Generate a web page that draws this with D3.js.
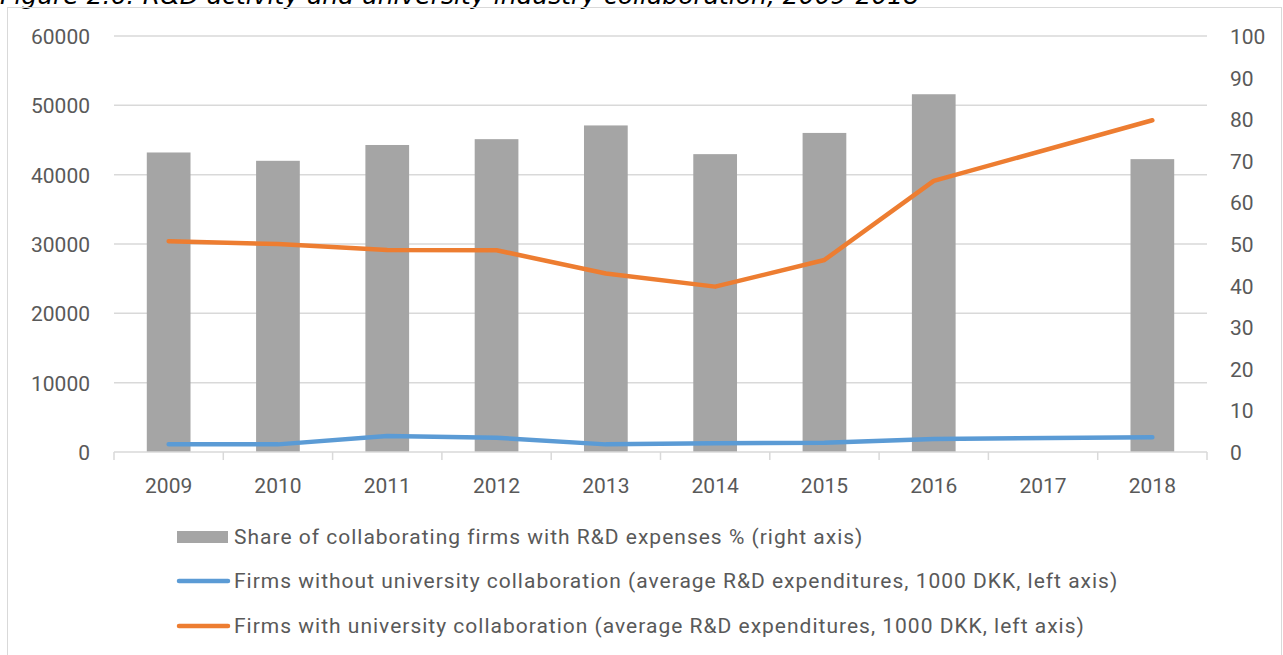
<!DOCTYPE html>
<html>
<head>
<meta charset="utf-8">
<script src="https://cdn.jsdelivr.net/npm/d3@7"></script>
<style>
  body { margin: 0; background: #fff; }
  text { font-family: Roboto, "Noto Sans", sans-serif; fill: #595959; }
</style>
</head>
<body>
<script>
var w = 1283;
var h = 655;

// data
var years = ["2009", "2010", "2011", "2012", "2013", "2014", "2015", "2016", "2017", "2018"];
var shareCollab = [72.0, 70.0, 73.8, 75.2, 78.5, 71.6, 76.7, 86.0, null, 70.4];
var withoutUni = [1100, 1100, 2300, 2050, 1100, 1250, 1350, 1880, null, 2120];
var withUni = [30400, 30000, 29150, 29100, 25750, 23850, 27700, 39100, null, 47850];
var leftTicks = [0, 10000, 20000, 30000, 40000, 50000, 60000];
var rightTicks = [0, 10, 20, 30, 40, 50, 60, 70, 80, 90, 100];
var legendLabels = [
    "Share of collaborating firms with R&D expenses % (right axis)",
    "Firms without university collaboration (average R&D expenditures, 1000 DKK, left axis)",
    "Firms with university collaboration (average R&D expenditures, 1000 DKK, left axis)"
];

var grey = "#a5a5a5", blue = "#5b9bd5", orange = "#ed7d31";

var svg = d3.select("body").append("svg")
            .attr("width", w)
            .attr("height", h);

// title, cut off at top like in the original
svg.append("text")
    .attr("x", 0)
    .attr("y", 4)
    .style("fill", "#000")
    .style("font-family", "'DejaVu Sans'")
    .style("font-style", "italic")
    .style("font-size", "25px")
    .text("Figure 2.6: R&D activity and university-industry collaboration, 2009-2018");

// chart frame
svg.append("rect")
    .attr("x", 7.5).attr("y", 7.5)
    .attr("width", 1274).attr("height", 700)
    .attr("fill", "none")
    .attr("stroke", "#d9d9d9");

var xBand = d3.scaleBand().domain(years).range([114, 1207]);
var yLeft = d3.scaleLinear().domain([0, 60000]).range([452, 36]);
var yRight = d3.scaleLinear().domain([0, 100]).range([452, 36]);

// gridlines
svg.append("g").selectAll("line")
    .data(leftTicks.slice(1))
    .enter().append("line")
    .attr("x1", 114).attr("x2", 1207)
    .attr("y1", function(d){ return yLeft(d); })
    .attr("y2", function(d){ return yLeft(d); })
    .attr("stroke", "#d9d9d9")
    .attr("stroke-width", 1.5);

// bars
svg.append("g").selectAll("rect")
    .data(years.filter(function(d, i){ return shareCollab[i] != null; }))
    .enter().append("rect")
    .attr("x", function(d){ return xBand(d) + xBand.bandwidth() * 0.3; })
    .attr("width", xBand.bandwidth() * 0.4)
    .attr("y", function(d){ return yRight(shareCollab[years.indexOf(d)]); })
    .attr("height", function(d){ return 452 - yRight(shareCollab[years.indexOf(d)]); })
    .attr("fill", grey);

// x axis with category-boundary ticks
var xAxis = svg.append("g").attr("transform", "translate(0,452)");
xAxis.append("line")
    .attr("x1", 114).attr("x2", 1207)
    .attr("stroke", "#d9d9d9").attr("stroke-width", 1.5);
xAxis.selectAll("line.tick")
    .data(years.concat(["end"]))
    .enter().append("line")
    .attr("class", "tick")
    .attr("x1", function(d, i){ return 114 + i * xBand.step(); })
    .attr("x2", function(d, i){ return 114 + i * xBand.step(); })
    .attr("y1", 0).attr("y2", 8)
    .attr("stroke", "#d9d9d9").attr("stroke-width", 1.5);
xAxis.selectAll("text")
    .data(years)
    .enter().append("text")
    .attr("x", function(d){ return xBand(d) + xBand.bandwidth() / 2; })
    .attr("y", 41)
    .attr("text-anchor", "middle")
    .style("font-size", "21px")
    .text(function(d){ return d; });

// left axis labels
svg.append("g").selectAll("text")
    .data(leftTicks)
    .enter().append("text")
    .attr("x", 90)
    .attr("y", function(d){ return yLeft(d) + 8; })
    .attr("text-anchor", "end")
    .style("font-size", "21px")
    .text(function(d){ return d; });

// right axis labels
svg.append("g").selectAll("text")
    .data(rightTicks)
    .enter().append("text")
    .attr("x", 1230)
    .attr("y", function(d){ return yRight(d) + 8; })
    .style("font-size", "21px")
    .text(function(d){ return d; });

// lines (2017 missing, points connected across the gap)
function drawLine(values, colour){
    var pts = years.map(function(d, i){ return [d, values[i]]; })
                   .filter(function(p){ return p[1] != null; });
    var line = d3.line()
        .x(function(p){ return xBand(p[0]) + xBand.bandwidth() / 2; })
        .y(function(p){ return yLeft(p[1]); });
    svg.append("path")
        .datum(pts)
        .attr("d", line)
        .attr("fill", "none")
        .attr("stroke", colour)
        .attr("stroke-width", 4.5)
        .attr("stroke-linejoin", "round")
        .attr("stroke-linecap", "round");
}
drawLine(withoutUni, blue);
drawLine(withUni, orange);

// legend
var legend = svg.append("g");
var legendY = [537, 581, 626];
legend.append("rect")
    .attr("x", 177).attr("y", legendY[0] - 6)
    .attr("width", 51).attr("height", 12)
    .attr("fill", grey);
[blue, orange].forEach(function(c, i){
    legend.append("line")
        .attr("x1", 179).attr("x2", 228)
        .attr("y1", legendY[i + 1]).attr("y2", legendY[i + 1])
        .attr("stroke", c)
        .attr("stroke-width", 4.5)
        .attr("stroke-linecap", "round");
});
legend.selectAll("text")
    .data(legendLabels)
    .enter().append("text")
    .attr("x", 234)
    .attr("y", function(d, i){ return legendY[i] + 7; })
    .style("font-size", "21px")
    .style("letter-spacing", "1px")
    .text(function(d){ return d; });
</script>
</body>
</html>
